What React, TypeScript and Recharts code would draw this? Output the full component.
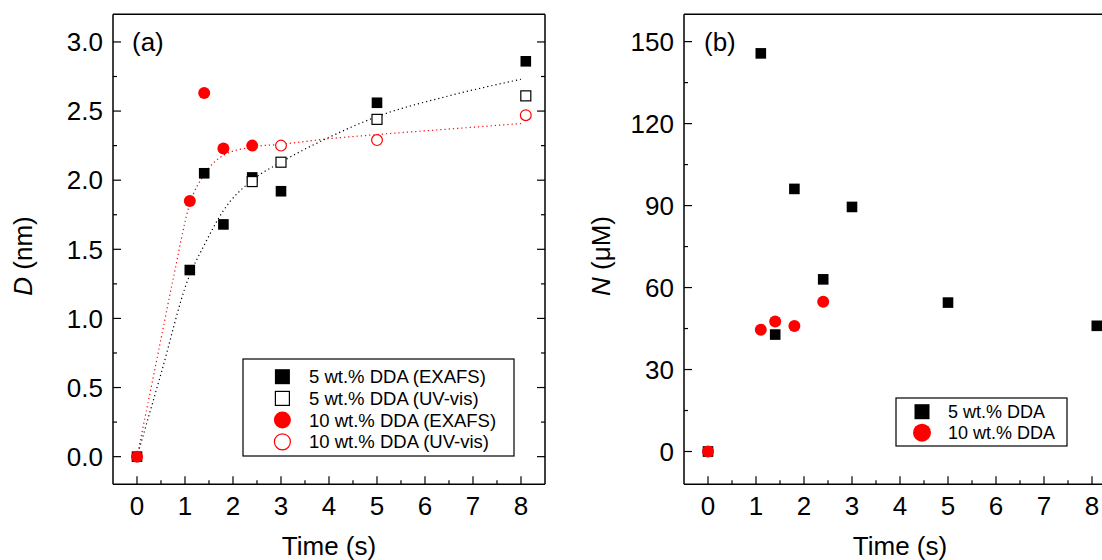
import React from 'react';
import { ComposedChart, Scatter, Line, XAxis, YAxis } from 'recharts';

const FONT = '"Liberation Sans", Arial, sans-serif';
const RED = '#ff0000';

// panel (a): particle size D (nm) vs time
const timeExafs5 = [0, 1.1, 1.4, 1.8, 2.4, 3, 5, 8.1];
const dExafs5 = [0, 1.35, 2.05, 1.68, 2.02, 1.92, 2.56, 2.86];
const timeUv5 = [2.4, 3, 5, 8.1];
const dUv5 = [1.99, 2.13, 2.44, 2.61];
const timeExafs10 = [0, 1.1, 1.4, 1.8, 2.4];
const dExafs10 = [0, 1.85, 2.63, 2.23, 2.25];
const timeUv10 = [3, 5, 8.1];
const dUv10 = [2.25, 2.29, 2.47];

// dotted guide curves
const guideTime5 = [0, 0.5, 1.06, 1.4, 1.8, 2.4, 3, 4, 5, 6.5, 8];
const guideD5 = [0, 0.6, 1.28, 1.53, 1.78, 2.0, 2.13, 2.31, 2.46, 2.61, 2.73];
const guideTime10 = [0, 0.4, 0.75, 1.1, 1.4, 1.8, 2.4, 3, 4, 5, 6.5, 8];
const guideD10 = [0, 0.68, 1.28, 1.83, 2.04, 2.18, 2.24, 2.26, 2.3, 2.33, 2.37, 2.41];

// panel (b): concentration N (uM) vs time
const timeN5 = [0, 1.1, 1.4, 1.8, 2.4, 3, 5, 8.1];
const n5 = [0, 145.7, 42.8, 96.1, 63, 89.5, 54.5, 46];
const timeN10 = [0, 1.1, 1.4, 1.8, 2.4];
const n10 = [0, 44.6, 47.6, 45.9, 54.8];

// ticks (majors get labels, halves are minor ticks)
const xTicks = [0, 0.5, 1, 1.5, 2, 2.5, 3, 3.5, 4, 4.5, 5, 5.5, 6, 6.5, 7, 7.5, 8];
const dTicks = [0, 0.25, 0.5, 0.75, 1, 1.25, 1.5, 1.75, 2, 2.25, 2.5, 2.75, 3];
const nTicks = [0, 15, 30, 45, 60, 75, 90, 105, 120, 135, 150];

const legendA = ['5 wt.% DDA (EXAFS)', '5 wt.% DDA (UV-vis)', '10 wt.% DDA (EXAFS)', '10 wt.% DDA (UV-vis)'];
const legendB = ['5 wt.% DDA', '10 wt.% DDA'];

const zip = (ts: number[], vs: number[]) => ts.map((t, i) => ({ t, v: vs[i] }));

const isStep = (v: number, step: number) => Math.abs(v / step - Math.round(v / step)) < 1e-6;

const bottomTick = (props: any) => {
  const { x, y, payload } = props;
  const major = isStep(payload.value, 1);
  return (
    <g>
      <line x1={x} x2={x} y1={y} y2={y - (major ? 8 : 4)} stroke="#000" strokeWidth={1.2} />
      {major && (
        <text x={x} y={y + 31} textAnchor="middle" fontSize={26} fontFamily={FONT} fill="#000">
          {payload.value}
        </text>
      )}
    </g>
  );
};

const topTick = (props: any) => {
  const { x, y, payload } = props;
  const major = isStep(payload.value, 1);
  return <line x1={x} x2={x} y1={y} y2={y + (major ? 8 : 4)} stroke="#000" strokeWidth={1.2} />;
};

const leftTick = (step: number, fmt: (v: number) => string) => (props: any) => {
  const { x, y, payload } = props;
  const major = isStep(payload.value, step);
  return (
    <g>
      <line x1={x} x2={x + (major ? 8 : 4)} y1={y} y2={y} stroke="#000" strokeWidth={1.2} />
      {major && (
        <text x={x - 10} y={y + 9.3} textAnchor="end" fontSize={26} fontFamily={FONT} fill="#000">
          {fmt(payload.value)}
        </text>
      )}
    </g>
  );
};

const rightTick = (step: number) => (props: any) => {
  const { x, y, payload } = props;
  const major = isStep(payload.value, step);
  return <line x1={x} x2={x - (major ? 8 : 4)} y1={y} y2={y} stroke="#000" strokeWidth={1.2} />;
};

const FilledSquare = (p: any) => <rect x={p.cx - 5.3} y={p.cy - 5.3} width={10.6} height={10.6} fill="#000" />;
const OpenSquare = (p: any) => (
  <rect x={p.cx - 5} y={p.cy - 5} width={10} height={10} fill="#fff" stroke="#000" strokeWidth={1.2} />
);
const FilledCircle = (p: any) => <circle cx={p.cx} cy={p.cy} r={6} fill={RED} />;
const OpenCircle = (p: any) => <circle cx={p.cx} cy={p.cy} r={5.4} fill="#fff" stroke={RED} strokeWidth={1.2} />;

const axisLine = { stroke: '#000', strokeWidth: 1.5 };
const margin = { top: 13.3, right: 14, bottom: 15.7, left: 53 };

const Frame = (yDomain: number[], yTicks: number[], yStep: number, fmt: (v: number) => string) => [
  <XAxis
    key="xb"
    dataKey="t"
    type="number"
    domain={[-0.5, 8.5]}
    ticks={xTicks}
    interval={0}
    allowDataOverflow
    height={60}
    tickSize={0}
    tickMargin={0}
    axisLine={axisLine}
    tickLine={false}
    tick={bottomTick}
  />,
  <XAxis
    key="xt"
    xAxisId="top"
    orientation="top"
    type="number"
    domain={[-0.5, 8.5]}
    ticks={xTicks}
    interval={0}
    allowDataOverflow
    height={1}
    tickSize={0}
    tickMargin={0}
    axisLine={axisLine}
    tickLine={false}
    tick={topTick}
  />,
  <YAxis
    key="yl"
    dataKey="v"
    type="number"
    domain={yDomain}
    ticks={yTicks}
    interval={0}
    allowDataOverflow
    width={60}
    tickSize={0}
    tickMargin={0}
    axisLine={axisLine}
    tickLine={false}
    tick={leftTick(yStep, fmt)}
  />,
  <YAxis
    key="yr"
    yAxisId="right"
    orientation="right"
    type="number"
    domain={yDomain}
    ticks={yTicks}
    interval={0}
    allowDataOverflow
    width={1}
    tickSize={0}
    tickMargin={0}
    axisLine={axisLine}
    tickLine={false}
    tick={rightTick(yStep)}
  />,
];

const PanelA = () => (
  <ComposedChart width={560} height={560} margin={margin}>
    {Frame([-0.2, 3.2], dTicks, 0.5, (v) => v.toFixed(1))}
    <Scatter data={zip(timeExafs5, dExafs5)} shape={FilledSquare} isAnimationActive={false} />
    <Scatter data={zip(timeUv5, dUv5)} shape={OpenSquare} isAnimationActive={false} />
    <Line
      data={zip(guideTime5, guideD5)}
      dataKey="v"
      type="monotone"
      stroke="#000"
      strokeWidth={1.2}
      strokeDasharray="1.2 3"
      dot={false}
      activeDot={false}
      isAnimationActive={false}
    />
    <Line
      data={zip(guideTime10, guideD10)}
      dataKey="v"
      type="monotone"
      stroke={RED}
      strokeWidth={1.2}
      strokeDasharray="1.2 3"
      dot={false}
      activeDot={false}
      isAnimationActive={false}
    />
    <Scatter data={zip(timeExafs10, dExafs10)} shape={FilledCircle} isAnimationActive={false} />
    <Scatter data={zip(timeUv10, dUv10)} shape={OpenCircle} isAnimationActive={false} />
  </ComposedChart>
);

const PanelB = () => (
  <ComposedChart width={560} height={560} margin={margin}>
    {Frame([-12, 160], nTicks, 30, (v) => String(v))}
    <Scatter data={zip(timeN5, n5)} shape={FilledSquare} isAnimationActive={false} />
    <Scatter data={zip(timeN10, n10)} shape={FilledCircle} isAnimationActive={false} />
  </ComposedChart>
);

const txt = { fontFamily: FONT, fill: '#000' };

const Overlay = () => (
  <svg width={1102} height={560} style={{ position: 'absolute', left: 0, top: 0, pointerEvents: 'none' }}>
    <text x={132} y={51} fontSize={26} {...txt}>(a)</text>
    <text x={704} y={51} fontSize={26} {...txt}>(b)</text>
    <text x={329} y={555} fontSize={26} textAnchor="middle" {...txt}>Time (s)</text>
    <text x={900} y={555} fontSize={26} textAnchor="middle" {...txt}>Time (s)</text>
    <text transform="translate(32,256) rotate(-90)" fontSize={26} textAnchor="middle" {...txt}>
      <tspan fontStyle="italic">D</tspan> (nm)
    </text>
    <text transform="translate(610,256) rotate(-90)" fontSize={26} textAnchor="middle" {...txt}>
      <tspan fontStyle="italic">N</tspan> (μM)
    </text>

    <rect x={243} y={359} width={271} height={97} fill="#fff" stroke="#000" strokeWidth={1.2} />
    {legendA.map((label, i) => {
      const cy = 376.7 + i * 21.7;
      const cx = 282.4;
      return (
        <g key={label}>
          {i === 0 && <rect x={cx - 7.5} y={cy - 7.5} width={15} height={15} fill="#000" />}
          {i === 1 && <rect x={cx - 7} y={cy - 7} width={14} height={14} fill="#fff" stroke="#000" strokeWidth={1.2} />}
          {i === 2 && <circle cx={cx} cy={cy} r={8.5} fill={RED} />}
          {i === 3 && <circle cx={cx} cy={cy} r={8} fill="#fff" stroke={RED} strokeWidth={1.2} />}
          <text x={309} y={cy + 6.6} fontSize={18.5} {...txt}>{label}</text>
        </g>
      );
    })}

    <rect x={896} y={398} width={171} height={48} fill="#fff" stroke="#000" strokeWidth={1.2} />
    {legendB.map((label, i) => {
      const cy = 411.7 + i * 21;
      const cx = 922;
      return (
        <g key={label}>
          {i === 0 ? <rect x={cx - 7.5} y={cy - 7.5} width={15} height={15} fill="#000" /> : <circle cx={cx} cy={cy} r={9} fill={RED} />}
          <text x={948} y={cy + 6.4} fontSize={18} {...txt}>{label}</text>
        </g>
      );
    })}
  </svg>
);

export default function App() {
  return (
    <div style={{ position: 'relative', width: 1102, height: 560, overflow: 'hidden', background: '#fff' }}>
      <style>{'body{margin:0;overflow:hidden}'}</style>
      <div style={{ position: 'absolute', left: 0, top: 0 }}>
        <PanelA />
      </div>
      <div style={{ position: 'absolute', left: 571, top: 0 }}>
        <PanelB />
      </div>
      <Overlay />
    </div>
  );
}
